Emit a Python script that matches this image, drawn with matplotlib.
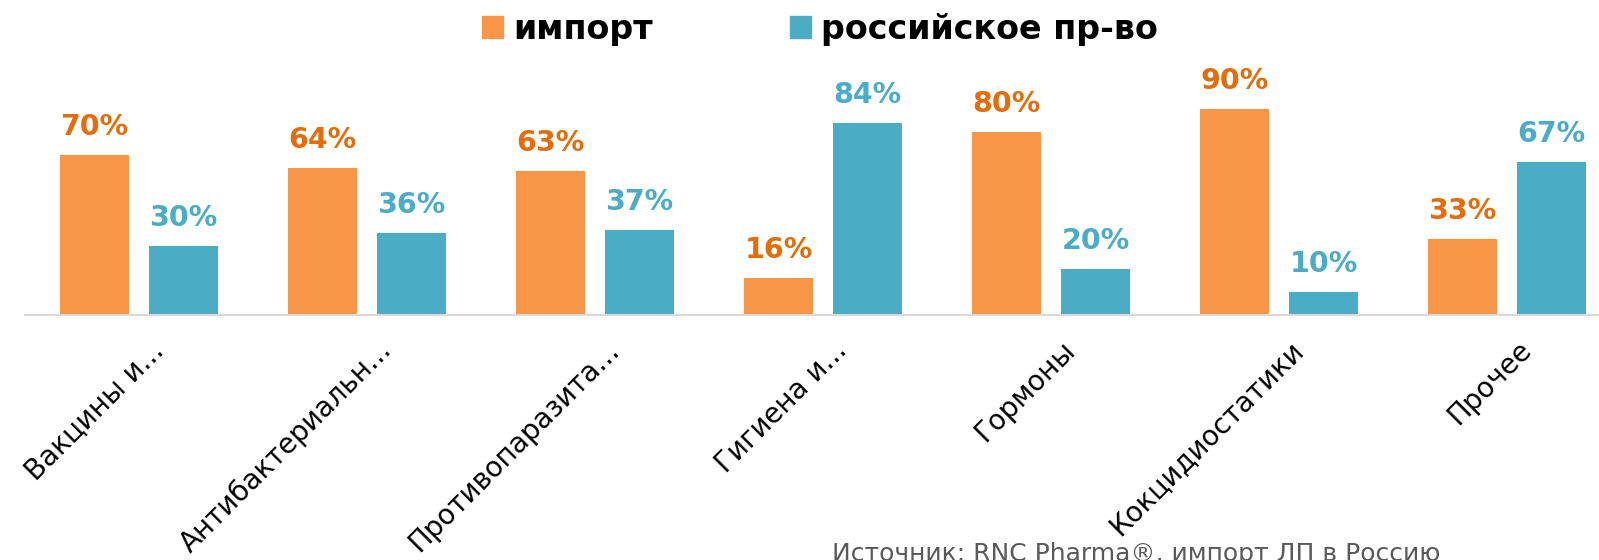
import numpy as np
import matplotlib
matplotlib.use('Agg')
import matplotlib.pyplot as plt
from matplotlib.patches import Patch
from matplotlib.transforms import ScaledTranslation

categories = ['Вакцины и...', 'Антибактериальн...', 'Противопаразита...', 'Гигиена и...',
              'Гормоны', 'Кокцидиостатики', 'Прочее']
import_share = [70, 64, 63, 16, 80, 90, 33]
local_share = [30, 36, 37, 84, 20, 10, 67]
series_names = ['импорт', 'российское пр-во']
source_note = 'Источник: RNC Pharma®, импорт ЛП в Россию'

bar_colors = ['#F79646', '#4BACC6']
text_colors = ['#E46C0A', '#4BACC6']

plt.rcParams['font.family'] = ['DejaVu Sans']
fig = plt.figure(figsize=(15.99, 5.6), dpi=100)
W, H = 1599, 560
ax = fig.add_axes([25 / W, 245 / H, 1596 / W, 229 / H])

x = np.arange(len(categories))
off = 0.195
bw = 0.303
for i, (vals, sh) in enumerate([(import_share, -off), (local_share, off)]):
    bars = ax.bar(x + sh, np.array(vals) / 100, bw, color=bar_colors[i])
    for b, v in zip(bars, vals):
        ax.annotate(f'{v}%', (b.get_x() + b.get_width() / 2, b.get_height()),
                    xytext=(0, 14.4), textcoords='offset points', ha='center', va='baseline',
                    fontsize=20.5, fontweight='bold', color=text_colors[i])

ax.set_xlim(-0.5, 6.5)
ax.set_ylim(0, 1.0)
for s in ['top', 'right', 'left']:
    ax.spines[s].set_visible(False)
ax.spines['bottom'].set_color('#D9D9D9')
ax.spines['bottom'].set_linewidth(1.5)
ax.set_yticks([])
ax.set_xticks(x)
ax.set_xticklabels(categories, rotation=45, ha='right', va='center', rotation_mode='anchor',
                   fontsize=20, color='black')
ax.tick_params(axis='x', length=0, pad=22)
shift = ScaledTranslation(0.2, 0, fig.dpi_scale_trans)
for lab in ax.get_xticklabels():
    lab.set_transform(lab.get_transform() + shift)

handles = [Patch(color=c) for c in bar_colors]
fig.legend(handles, series_names, ncol=2, loc='center', bbox_to_anchor=(820 / W, 1 - 29 / H),
           frameon=False, handlelength=0.64, handleheight=0.64, handletextpad=0.3,
           columnspacing=4.1, prop={'size': 24, 'weight': 'bold'})

fig.text(832 / W, -1 / H, source_note, fontsize=18, color='#595959', va='baseline', ha='left')

plt.savefig('out.png', dpi=100)
